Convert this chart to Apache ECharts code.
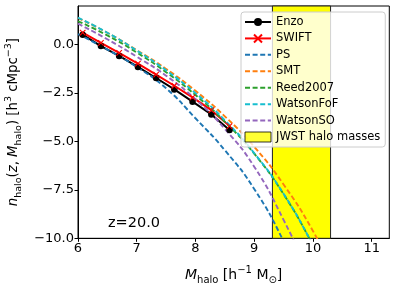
<!DOCTYPE html>
<html><head><meta charset="utf-8">
<script src="https://cdn.jsdelivr.net/npm/echarts@6/dist/echarts.min.js"></script>
<style>html,body{margin:0;padding:0;background:#fff}#c{width:396px;height:285px}</style>
</head><body><div id="c"></div>
<script>
// ---- data ----
const simMass = [6.08, 6.39, 6.70, 7.02, 7.33, 7.64, 7.95, 8.27, 8.58];
const enzo    = [0.52, -0.07, -0.58, -1.15, -1.72, -2.31, -2.94, -3.60, -4.40];
const swift   = [0.62, 0.10, -0.42, -0.98, -1.55, -2.12, -2.72, -3.38, -4.20];

const massGrid  = [6.0, 6.5, 7.0, 7.5, 8.0, 8.5, 9.0, 9.5, 10.0, 10.5];
const ps        = [0.55, -0.25, -1.15, -2.25, -3.80, -5.45, -7.45, -10.15, -13.5, -17.0];
const smt       = [1.38, 0.62, -0.28, -1.25, -2.38, -3.70, -5.27, -7.22, -9.62, -12.6];
const reed      = [1.22, 0.48, -0.40, -1.42, -2.60, -3.98, -5.63, -7.72, -10.35, -13.3];
const watsonFoF = [1.40, 0.62, -0.30, -1.32, -2.50, -3.90, -5.60, -7.70, -10.35, -13.3];
const watsonSO  = [1.09, 0.28, -0.62, -1.60, -2.82, -4.35, -6.30, -9.05, -12.3, -16.0];

const jwstBand = [9.31, 10.30];
const xTicks = [6, 7, 8, 9, 10, 11];
const yTicks = [-10, -7.5, -5, -2.5, 0];
const zLabel = 'z=20.0';

// ---- chart ----
const FONT = 'DejaVu Sans';
const pair = (xs, ys) => xs.map((x, i) => [x, ys[i]]);
const dash = (name, ys, color) => ({
  type: 'line', name, data: pair(massGrid, ys), symbol: 'none', showSymbol: false,
  smooth: true, clip: true,
  lineStyle: { color, width: 1.9, type: [5, 2.6] }, itemStyle: { color }, z: 3
});
const minus = v => String(v).replace('-', '\u2212');
const mkRich = (fs, ss) => ({
  i: { fontStyle: 'italic', fontSize: fs, fontFamily: FONT, color: '#000', lineHeight: 20 },
  sub: { fontSize: ss, fontFamily: FONT, color: '#000', verticalAlign: 'bottom', lineHeight: 12 },
  sup: { fontSize: ss, fontFamily: FONT, color: '#000', verticalAlign: 'top', lineHeight: 12 }
});
const hideSym = name => ({ name, itemStyle: { opacity: 0 } });

const chart = echarts.init(document.getElementById('c'), null, { renderer: 'canvas' });
chart.setOption({
  animation: false,
  textStyle: { fontFamily: FONT },
  grid: { left: 78, right: 6.7, top: 6, bottom: 46.7, show: true, borderColor: '#000', borderWidth: 1, outerBoundsMode: 'none' },
  xAxis: {
    type: 'value', min: 6, max: 11.3,
    axisLine: { show: true, onZero: false, lineStyle: { color: '#000', width: 1 } },
    axisTick: { show: true, length: 3.5, lineStyle: { color: '#000' }, customValues: xTicks },
    axisLabel: { customValues: xTicks, color: '#000', fontSize: 13, margin: 4, fontFamily: FONT },
    splitLine: { show: false },
    name: '{i|M}{sub|halo} [h{sup|\u22121} M{sub|\u2299}]',
    nameLocation: 'middle', nameGap: 27,
    nameTextStyle: { fontSize: 14, color: '#000', fontFamily: FONT, lineHeight: 20, rich: mkRich(14, 10) }
  },
  yAxis: {
    type: 'value', min: -10, max: 2,
    axisLine: { show: true, onZero: false, lineStyle: { color: '#000', width: 1 } },
    axisTick: { show: true, length: 3.5, lineStyle: { color: '#000' }, customValues: yTicks },
    axisLabel: { customValues: yTicks, color: '#000', fontSize: 13, margin: 4, fontFamily: FONT,
      formatter: v => minus(v.toFixed(1)) },
    splitLine: { show: false },
    name: '{i|n}{sub|halo}({i|z}, {i|M}{sub|halo}) [h{sup|3} cMpc{sup|\u22123}]',
    nameLocation: 'middle', nameGap: 51,
    nameTextStyle: { fontSize: 13.3, color: '#000', fontFamily: FONT, lineHeight: 20, rich: mkRich(13.3, 9.5) }
  },
  legend: {
    orient: 'vertical', left: 241, top: 12,
    padding: [3, 5, 3, 3],
    backgroundColor: 'rgba(255,255,255,0.8)', borderColor: '#cccccc', borderWidth: 1, borderRadius: 3,
    itemWidth: 26, itemHeight: 10, itemGap: 2.43, itemTextGap: 8,
    textStyle: { fontSize: 11.5, color: '#000', fontFamily: FONT, lineHeight: 14 },
    data: ['Enzo', 'SWIFT', hideSym('PS'), hideSym('SMT'), hideSym('Reed2007'), hideSym('WatsonFoF'), hideSym('WatsonSO'),
      { name: 'JWST halo masses', icon: 'rect', itemStyle: { color: '#ffff00', borderColor: '#000', borderWidth: 1 } }]
  },
  graphic: [{ type: 'text', left: 108, top: 216, style: { text: zLabel, fontSize: 14.5, fontFamily: FONT, fill: '#000' } }],
  series: [
    { type: 'scatter', name: 'JWST halo masses', data: [], symbol: 'rect',
      itemStyle: { color: '#ffff00', borderColor: '#000', borderWidth: 1 }, z: 1,
      markArea: { silent: true, itemStyle: { color: '#ffff00', borderColor: '#222', borderWidth: 1, opacity: 1 },
        data: [[{ xAxis: jwstBand[0] }, { xAxis: jwstBand[1] }]] } },
    { type: 'line', name: 'Enzo', data: pair(simMass, enzo), symbol: 'circle', symbolSize: 6.5,
      lineStyle: { color: '#000', width: 2 }, itemStyle: { color: '#000' }, z: 3 },
    { type: 'line', name: 'SWIFT', data: pair(simMass, swift), symbol: 'path://M0,0L10,10M10,0L0,10', symbolSize: 5.5,
      lineStyle: { color: '#ff0000', width: 2 }, itemStyle: { color: '#ff0000', borderColor: '#ff0000', borderWidth: 1.1 }, z: 3 },
    dash('PS', ps, '#1f77b4'),
    dash('SMT', smt, '#ff7f0e'),
    dash('Reed2007', reed, '#2ca02c'),
    dash('WatsonFoF', watsonFoF, '#17becf'),
    dash('WatsonSO', watsonSO, '#9467bd')
  ]
});
</script>
</body></html>
